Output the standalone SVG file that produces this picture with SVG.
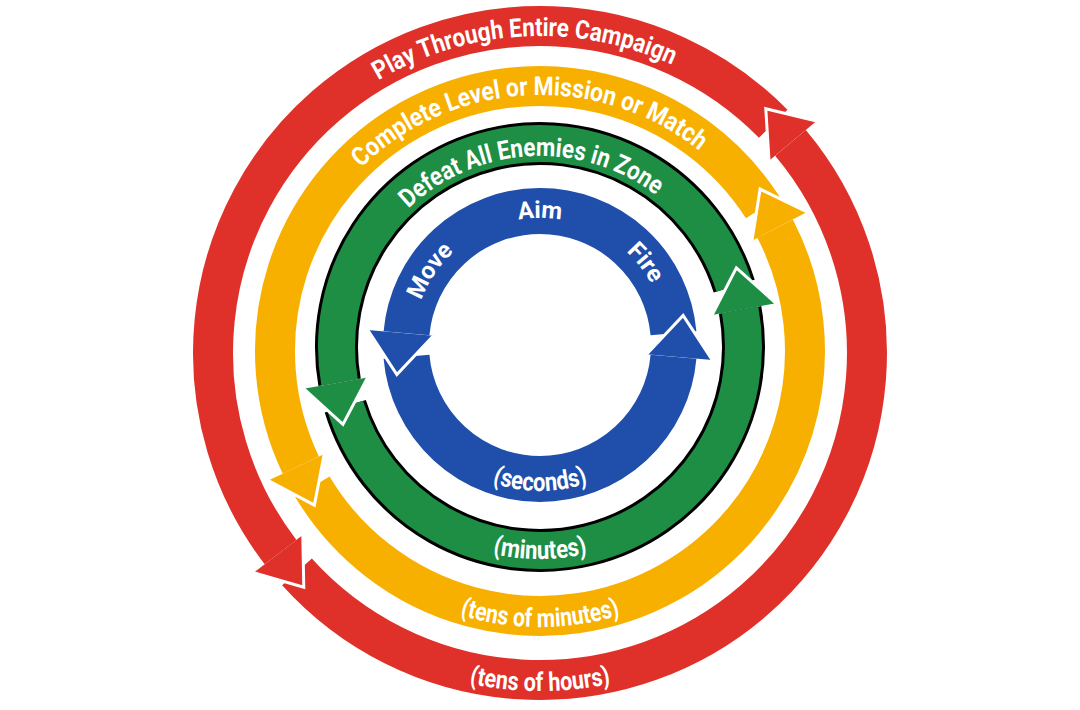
<svg xmlns="http://www.w3.org/2000/svg" width="1080" height="710" viewBox="0 0 1080 710">
<defs>
<style>
.band{fill:none;stroke-linecap:butt}
.red{stroke:#E0302A}
.yel{stroke:#F8B000}
.grn{stroke:#1E8E45}
.blk{stroke:#000}
.blu{stroke:#1F4FAB}
.hred{fill:#E0302A}
.hyel{fill:#F8B000}
.hgrn{fill:#1E8E45}
.hblu{fill:#1F4FAB}
.vee{fill:none;stroke:#fff;stroke-width:3;stroke-linejoin:miter}
.lbl{font-family:Roboto,"Liberation Sans",sans-serif;font-weight:700;font-size:26px;fill:#fff}
.act{font-family:Roboto,"Liberation Sans",sans-serif;font-weight:700;font-size:24px;fill:#fff}
.sub{font-family:Roboto,"Liberation Sans",sans-serif;font-weight:700;font-size:26px;fill:#fff}
</style>
<path id="tpRed" d="M 223 353 A 317 317 0 0 1 857 353"/>
<path id="tpYel" d="M 284 351 A 256 256 0 0 1 796 351"/>
<path id="tpGrn" d="M 349 347 A 191 191 0 0 1 731 347"/>
<path id="tpBlu" d="M 413 345 A 127 127 0 0 1 667 345"/>
<path id="bpSec" d="M 413.56 418 A 146 146 0 0 0 666.44 418"/>
<path id="bpMin" d="M 356.40 453 A 212 212 0 0 0 723.60 453"/>
<path id="bpTom" d="M 300.98 489 A 276 276 0 0 0 779.02 489"/>
<path id="bpToh" d="M 247.28 522 A 338 338 0 0 0 832.72 522"/>
</defs>
<rect width="1080" height="710" fill="#fff"/>

<g id="connectors">
<g id="loop-campaign-arrows">
<path class="band red" stroke-width="40" d="M 773.23 123.80 A 327 327 0 0 0 280.57 552.06"/>
<path class="band red" stroke-width="40" d="M 296.99 571.81 A 327 327 0 0 0 790.49 142.81"/>
<polygon class="hred" points="769.05,160.81 765.79,108.71 816.54,120.95"/>
<path class="vee" d="M 769.05 160.81 L 765.79 108.71 L 816.54 120.95"/>
<polygon class="hred" points="302.79,535.02 303.76,587.21 253.60,572.76"/>
<path class="vee" d="M 302.79 535.02 L 303.76 587.21 L 253.60 572.76"/>
</g>
<g id="loop-level-arrows">
<path class="band yel" stroke-width="40" d="M 762.75 207.45 A 265 265 0 0 0 300.81 465.09"/>
<path class="band yel" stroke-width="40" d="M 312.38 486.69 A 265 265 0 0 0 775.06 228.64"/>
<polygon class="hyel" points="752.00,240.64 760.10,189.08 806.99,212.01"/>
<path class="vee" d="M 752.00 240.64 L 760.10 189.08 L 806.99 212.01"/>
<polygon class="hyel" points="324.28,453.89 314.38,505.15 268.32,480.58"/>
<path class="vee" d="M 324.28 453.89 L 314.38 505.15 L 268.32 480.58"/>
</g>
<g id="loop-zone-arrows">
<path class="band blk" stroke-width="43" d="M 734.19 286.15 A 203.5 203.5 0 0 0 339.59 382.34"/>
<path class="band grn" stroke-width="37" d="M 734.19 286.15 A 203.5 203.5 0 0 0 339.59 382.34"/>
<path class="band blk" stroke-width="43" d="M 345.29 406.16 A 203.5 203.5 0 0 0 740.09 309.91"/>
<path class="band grn" stroke-width="37" d="M 345.29 406.16 A 203.5 203.5 0 0 0 740.09 309.91"/>
<polygon class="hgrn" points="712.07,315.11 736.37,267.89 775.98,303.26"/>
<path class="vee" d="M 712.07 315.11 L 736.37 267.89 L 775.98 303.26"/>
<polygon class="hgrn" points="367.66,377.39 342.94,424.39 303.65,388.68"/>
<path class="vee" d="M 367.66 377.39 L 342.94 424.39 L 303.65 388.68"/>
</g>
<g id="loop-combat-arrows">
<path class="band blu" stroke-width="46" d="M 673.49 333.32 A 134 134 0 0 0 406.51 333.32"/>
<path class="band blu" stroke-width="46" d="M 406.51 356.68 A 134 134 0 0 0 673.49 356.68"/>
<polygon class="hblu" points="646.59,354.33 683.13,315.36 712.34,360.08"/>
<path class="vee" d="M 646.59 354.33 L 683.13 315.36 L 712.34 360.08"/>
<polygon class="hblu" points="433.41,335.67 396.87,374.64 367.66,329.92"/>
<path class="vee" d="M 433.41 335.67 L 396.87 374.64 L 367.66 329.92"/>
</g>
</g>

<g id="node-campaign">
<text class="lbl"><textPath href="#tpRed" startOffset="48.33%" text-anchor="middle" textLength="306" lengthAdjust="spacingAndGlyphs">Play Through Entire Campaign</textPath></text>
<text class="sub"><textPath href="#bpToh" startOffset="50%" text-anchor="middle" textLength="143" lengthAdjust="spacingAndGlyphs">(tens of hours)</textPath></text>
</g>
<g id="node-level">
<text class="lbl"><textPath href="#tpYel" startOffset="48.39%" text-anchor="middle" textLength="370" lengthAdjust="spacingAndGlyphs">Complete Level or Mission or Match</textPath></text>
<text class="sub"><textPath href="#bpTom" startOffset="50%" text-anchor="middle" textLength="163" lengthAdjust="spacingAndGlyphs">(tens of minutes)</textPath></text>
</g>
<g id="node-zone">
<text class="lbl"><textPath href="#tpGrn" startOffset="48.28%" text-anchor="middle" textLength="270" lengthAdjust="spacingAndGlyphs">Defeat All Enemies in Zone</textPath></text>
<text class="sub"><textPath href="#bpMin" startOffset="50%" text-anchor="middle" textLength="96" lengthAdjust="spacingAndGlyphs">(minutes)</textPath></text>
</g>
<g id="node-combat">
<text class="act"><textPath href="#tpBlu" startOffset="50%" text-anchor="middle">Aim</textPath></text>
<text class="act"><textPath href="#tpBlu" startOffset="18.89%" text-anchor="middle">Move</textPath></text>
<text class="act"><textPath href="#tpBlu" startOffset="78.89%" text-anchor="middle">Fire</textPath></text>
<text class="sub"><textPath href="#bpSec" startOffset="50%" text-anchor="middle" textLength="98" lengthAdjust="spacingAndGlyphs">(seconds)</textPath></text>
</g>
</svg>
